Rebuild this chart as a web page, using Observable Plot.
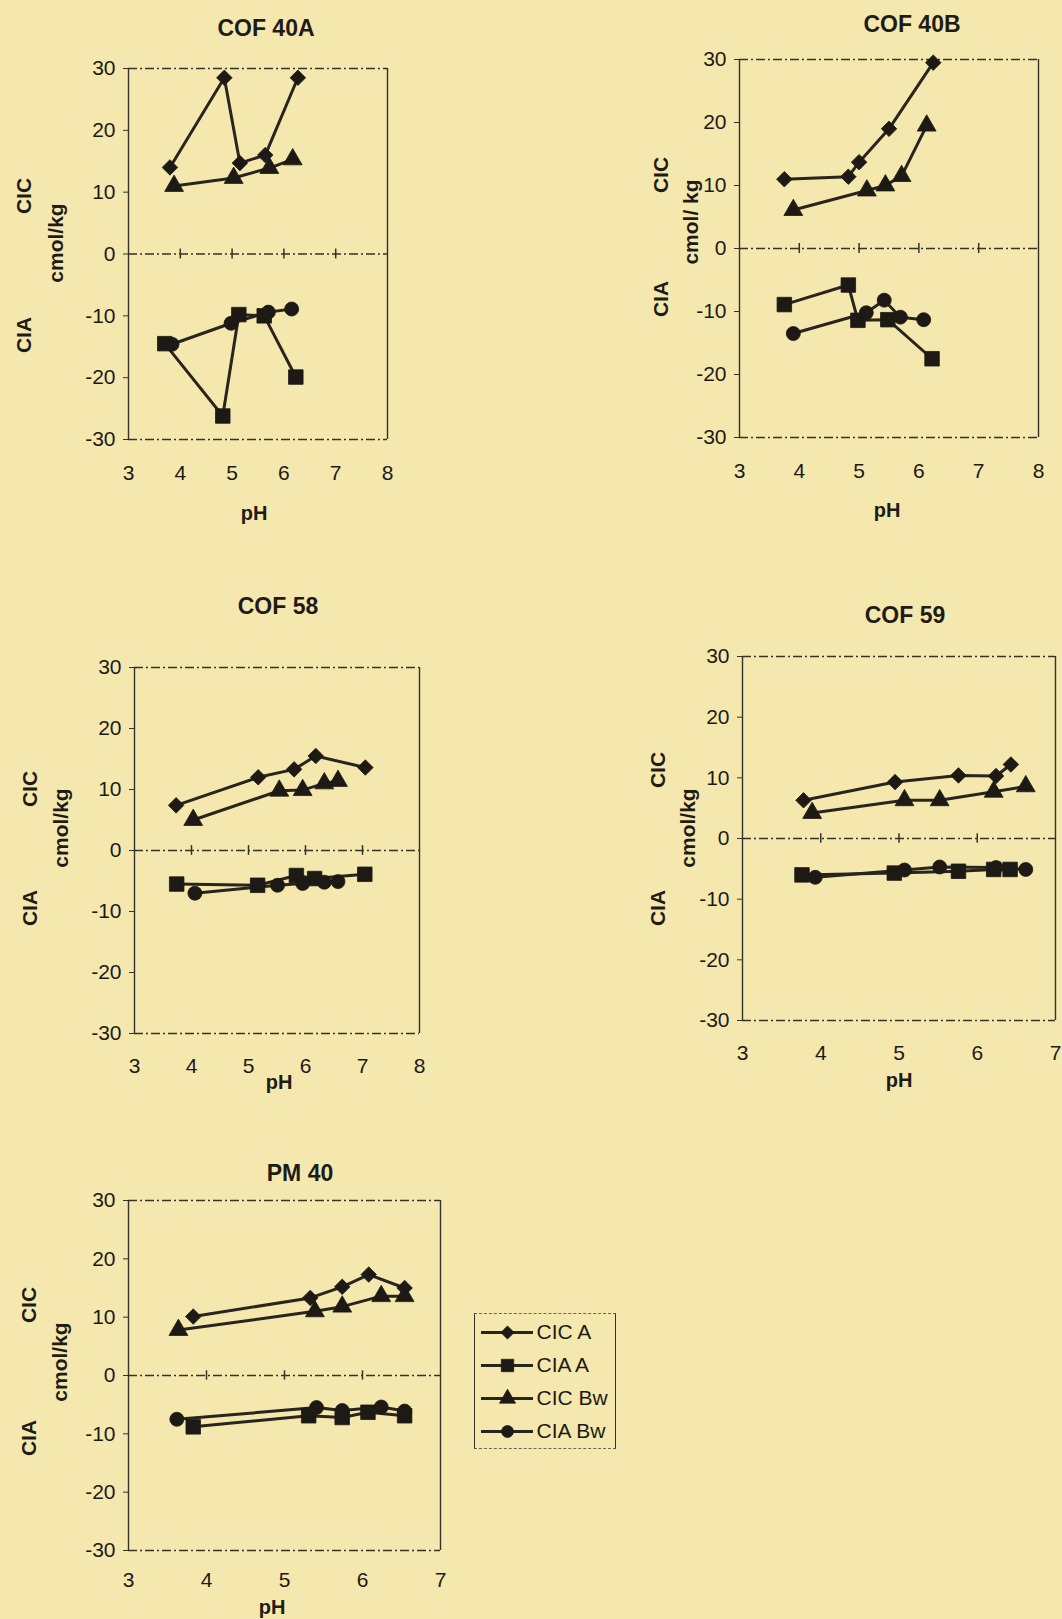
<!DOCTYPE html>
<html>
<head>
<meta charset="utf-8">
<script src="https://cdn.jsdelivr.net/npm/d3@7"></script>
<script src="https://cdn.jsdelivr.net/npm/@observablehq/plot@0.6"></script>
<style>
  html, body { margin: 0; padding: 0; background: #f4e8ae; }
  #page { position: relative; width: 1062px; height: 1619px; background: #f4e8ae; overflow: hidden;
          font-family: "Liberation Sans", Arial, sans-serif; color: #1f1c17; }
  .lbl { position: absolute; font-weight: bold; white-space: nowrap; transform: translate(-50%, -50%); line-height: 1; }
  .rot { transform: translate(-50%, -50%) rotate(-90deg); }
  .legend { position: absolute; border-left: 1.4px solid #35322b; border-right: 1.4px solid #35322b;
            border-top: 1.2px dashed #6a665a; border-bottom: 1.2px dashed #6a665a; }
</style>
</head>
<body>
<div id="page"></div>
<script>
// ---------- data ----------
const seriesNames = ["CIC A", "CIA A", "CIC Bw", "CIA Bw"];
const symbolNames = ["diamond2", "square", "triangle", "circle"];
const yTicks = [-30, -20, -10, 0, 10, 20, 30];

// COF 40A  [pH, cmol/kg]
const cof40A_cicA  = [[3.8, 14.0], [4.85, 28.5], [5.15, 14.7], [5.64, 16.0], [6.27, 28.5]];
const cof40A_ciaA  = [[3.7, -14.5], [4.82, -26.2], [5.13, -9.8], [5.62, -10.0], [6.23, -19.9]];
const cof40A_cicBw = [[3.88, 11.0], [5.03, 12.3], [5.72, 13.9], [6.17, 15.3]];
const cof40A_ciaBw = [[3.84, -14.6], [4.98, -11.2], [5.7, -9.4], [6.15, -8.9]];

// COF 40B
const cof40B_cicA  = [[3.75, 11.0], [4.82, 11.4], [5.0, 13.7], [5.5, 19.0], [6.24, 29.5]];
const cof40B_ciaA  = [[3.75, -8.9], [4.82, -5.8], [4.98, -11.4], [5.48, -11.3], [6.22, -17.5]];
const cof40B_cicBw = [[3.9, 6.1], [5.13, 9.2], [5.44, 10.0], [5.71, 11.5], [6.13, 19.5]];
const cof40B_ciaBw = [[3.9, -13.5], [5.12, -10.2], [5.42, -8.2], [5.69, -10.9], [6.08, -11.3]];

// COF 58
const cof58_cicA  = [[3.73, 7.4], [5.17, 12.0], [5.8, 13.3], [6.18, 15.5], [7.05, 13.6]];
const cof58_ciaA  = [[3.74, -5.5], [5.16, -5.7], [5.84, -4.1], [6.16, -4.6], [7.04, -3.9]];
const cof58_cicBw = [[4.03, 5.0], [5.54, 9.8], [5.95, 9.9], [6.33, 11.0], [6.57, 11.4]];
const cof58_ciaBw = [[4.06, -7.0], [5.51, -5.7], [5.95, -5.4], [6.33, -5.2], [6.57, -5.1]];

// COF 59
const cof59_cicA  = [[3.78, 6.3], [4.95, 9.3], [5.76, 10.4], [6.24, 10.3], [6.43, 12.2]];
const cof59_ciaA  = [[3.76, -6.0], [4.94, -5.7], [5.76, -5.4], [6.21, -5.1], [6.42, -5.1]];
const cof59_cicBw = [[3.89, 4.2], [5.07, 6.3], [5.52, 6.3], [6.21, 7.7], [6.62, 8.6]];
const cof59_ciaBw = [[3.93, -6.4], [5.07, -5.2], [5.52, -4.7], [6.24, -4.8], [6.62, -5.1]];

// PM 40
const pm40_cicA  = [[3.83, 10.1], [5.33, 13.3], [5.74, 15.2], [6.08, 17.3], [6.54, 15.0]];
const pm40_ciaA  = [[3.83, -8.8], [5.31, -6.9], [5.74, -7.2], [6.07, -6.3], [6.54, -6.9]];
const pm40_cicBw = [[3.64, 7.8], [5.39, 11.0], [5.74, 11.8], [6.24, 13.6], [6.54, 13.6]];
const pm40_ciaBw = [[3.62, -7.5], [5.41, -5.5], [5.74, -6.0], [6.24, -5.4], [6.54, -6.1]];

// ---------- styling / layout ----------
const FONT = '"Liberation Sans", Arial, sans-serif';
const INK = "#1d1a15";
const LINE = "#28251e";
const FRAME = "#35322b";
const markerR = [7, 8.2, 7, 7];
const DASH = "9,3,2,3";

const panels = [
  { title: "COF 40A", unit: "cmol/kg", xMax: 8,
    series: [cof40A_cicA, cof40A_ciaA, cof40A_cicBw, cof40A_ciaBw],
    frame: [128, 68, 387, 439], xPad: 27,
    titleAt: [266, 28], phAt: [254, 513], cicAt: [23, 196], cmolAt: [55, 243], ciaAt: [23, 335] },
  { title: "COF 40B", unit: "cmol/ kg", xMax: 8,
    series: [cof40B_cicA, cof40B_ciaA, cof40B_cicBw, cof40B_ciaBw],
    frame: [739, 59, 1038, 437], xPad: 27,
    titleAt: [912, 24], phAt: [887, 510], cicAt: [660, 175], cmolAt: [690, 222], ciaAt: [660, 299] },
  { title: "COF 58", unit: "cmol/kg", xMax: 8,
    series: [cof58_cicA, cof58_ciaA, cof58_cicBw, cof58_ciaBw],
    frame: [134, 667, 419, 1033], xPad: 26,
    titleAt: [278, 606], phAt: [279, 1082], cicAt: [29, 789], cmolAt: [60, 828], ciaAt: [29, 908] },
  { title: "COF 59", unit: "cmol/kg", xMax: 7,
    series: [cof59_cicA, cof59_ciaA, cof59_cicBw, cof59_ciaBw],
    frame: [742, 656, 1055, 1020], xPad: 26,
    titleAt: [905, 615], phAt: [899, 1080], cicAt: [657, 770], cmolAt: [687, 828], ciaAt: [657, 908] },
  { title: "PM 40", unit: "cmol/kg", xMax: 7,
    series: [pm40_cicA, pm40_ciaA, pm40_cicBw, pm40_ciaBw],
    frame: [128, 1200, 440, 1550], xPad: 23,
    titleAt: [300, 1173], phAt: [272, 1607], cicAt: [28, 1305], cmolAt: [59, 1362], ciaAt: [28, 1438] }
];

const page = document.getElementById("page");

function label(text, [x, y], size, rotate) {
  const d = document.createElement("div");
  d.className = "lbl" + (rotate ? " rot" : "");
  d.textContent = text;
  d.style.left = x + "px";
  d.style.top = y + "px";
  d.style.fontSize = size + "px";
  page.append(d);
}

function drawPanel(p) {
  const [fl, ft, fr, fb] = p.frame;
  const mL = 70, mR = 14, mT = 14, mB = 60;
  const rows = p.series.flatMap((pts, i) => pts.map(([x, y]) => ({ pH: x, v: y, s: seriesNames[i] })));
  const xt = d3.range(3, p.xMax + 1);
  const chart = Plot.plot({
    width: fr - fl + mL + mR,
    height: fb - ft + mT + mB,
    marginLeft: mL, marginRight: mR, marginTop: mT, marginBottom: mB,
    style: { background: "transparent", fontFamily: FONT, fontSize: "21px", color: INK, overflow: "visible" },
    x: { domain: [3, p.xMax] },
    y: { domain: [-30, 30] },
    symbol: { domain: seriesNames, range: symbolNames },
    marks: [
      Plot.ruleY([30, -30], { stroke: FRAME, strokeWidth: 1.3, strokeDasharray: DASH }),
      Plot.ruleX([3, p.xMax], { stroke: FRAME, strokeWidth: 1.4 }),
      Plot.ruleY([0], { stroke: FRAME, strokeWidth: 1.3, strokeDasharray: DASH }),
      Plot.ruleX(xt.slice(1, -1), { y1: -0.8, y2: 0.8, stroke: FRAME, strokeWidth: 1.5 }),
      Plot.axisY({ ticks: yTicks, tickSize: 5, tickPadding: 8, tickFormat: d => String(d),
                   label: null, fontSize: 21, stroke: FRAME }),
      Plot.axisX({ ticks: xt, tickSize: 0, tickPadding: p.xPad - 1, tickFormat: d => String(d),
                   label: null, fontSize: 21 }),
      Plot.line(rows, { x: "pH", y: "v", z: "s", stroke: LINE, strokeWidth: 3 }),
      ...seriesNames.map((s, i) => Plot.dot(rows.filter(d => d.s === s),
        { x: "pH", y: "v", symbol: "s", r: markerR[i], fill: INK, stroke: INK, strokeWidth: 0.8 }))
    ]
  });
  chart.style.position = "absolute";
  chart.style.left = (fl - mL) + "px";
  chart.style.top = (ft - mT) + "px";
  page.append(chart);

  label(p.title, p.titleAt, 23, false);
  label("pH", p.phAt, 20, false);
  label("CIC", p.cicAt, 21, true);
  label(p.unit, p.cmolAt, 21, true);
  label("CIA", p.ciaAt, 21, true);
}

panels.forEach(drawPanel);

// ---------- legend ----------
const legW = 140, legH = 134;
const legBox = document.createElement("div");
legBox.className = "legend";
legBox.style.left = "474px";
legBox.style.top = "1313px";
legBox.style.width = legW + "px";
legBox.style.height = legH + "px";
const legend = Plot.plot({
  width: legW, height: legH, margin: 0,
  style: { background: "transparent", fontFamily: FONT, color: INK, overflow: "visible" },
  x: { domain: [0, legW], axis: null },
  y: { type: "point", domain: seriesNames, padding: 0.5, axis: null },
  symbol: { domain: seriesNames, range: symbolNames },
  marks: [
    Plot.ruleY(seriesNames, { y: d => d, x1: 6, x2: 58, stroke: LINE, strokeWidth: 2.8 }),
    ...seriesNames.map((s, i) => Plot.dot([s], { y: d => d, x: 32, symbol: d => d,
      r: markerR[i] * 0.85, fill: INK, stroke: INK, strokeWidth: 0.8 })),
    Plot.text(seriesNames, { y: d => d, x: 61, text: d => d, textAnchor: "start",
      fontSize: 21, fill: INK })
  ]
});
legBox.append(legend);
page.append(legBox);
</script>
</body>
</html>
